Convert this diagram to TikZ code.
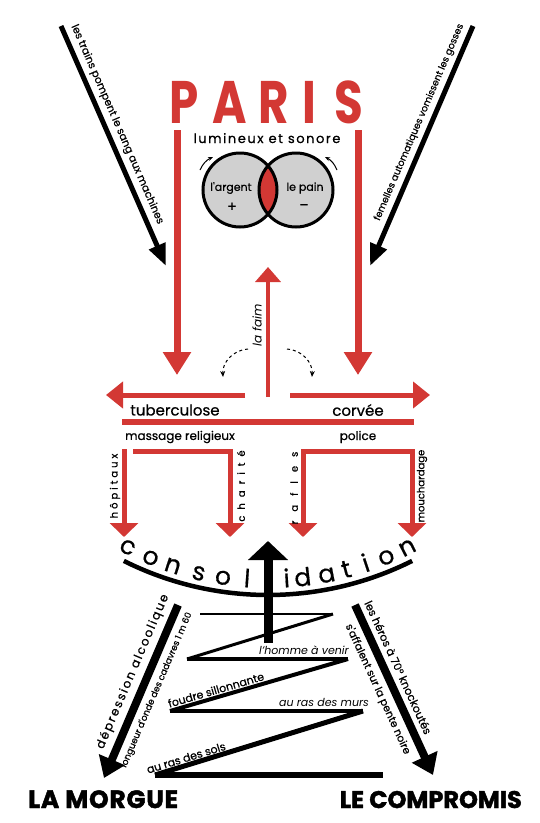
\documentclass[tikz,border=0pt]{standalone}
\usepackage{fontspec}
\setmainfont{Poppins}
\newfontfamily\medfont[FakeBold=0.6]{Poppins}
\newfontfamily\heavyfont[FakeBold=1.8]{Poppins}
\usetikzlibrary{arrows.meta}
\definecolor{parisred}{RGB}{211,56,52}
\definecolor{venngray}{RGB}{208,208,208}
\newcommand\fsz[1]{\fontsize{#1}{#1}\selectfont}
\tikzset{
  blackarrow/.style={line width=5pt, -{Triangle[length=22pt,width=17pt]}},
  bigblack/.style={line width=8pt, -{Triangle[length=20pt,width=27pt]}},
  bigred/.style={draw=parisred, line width=7pt, -{Triangle[length=23pt,width=27pt]}},
  hred/.style={draw=parisred, line width=5pt, -{Triangle[length=17pt,width=26pt]}},
  bracket/.style={draw=parisred, line width=5pt, >={Triangle[length=14pt,width=28pt]}},
  smallarc/.style={line width=1pt, -{Stealth[length=5pt,width=4pt]}},
  lbl/.style={inner sep=1pt, font=\medfont\fsz{#1}},
  lbl/.default=11
}
\begin{document}
\begin{tikzpicture}[x=1pt,y=-1pt]
  \useasboundingbox[fill=white] (0,0) rectangle (540,823);
  % the two black arrows at the top
  \coordinate (trainsA) at (61,26);  \coordinate (trainsB) at (166,266);
  \coordinate (femA) at (473,26);    \coordinate (femB) at (370,266);
  \draw[blackarrow] (trainsA) -- node[lbl=10.5, sloped, above=3pt, pos=0.43] (trains) {les trains pompent le sang aux machines} (trainsB);
  \draw[blackarrow] (femA) -- node[lbl=9.5, sloped, above=3pt, pos=0.42] (femelles) {femelles automatiques vomissent les gosses} (femB);

  % PARIS
  \foreach \ch/\px in {P/184, A/230, R/274, I/309, S/349}
    \node[font=\fsz{60}\bfseries, text=parisred, anchor=base, inner sep=0pt, xscale=0.78] (paris-\ch) at (\px,123) {\ch};
  \node[font=\medfont\fsz{13}\addfontfeature{LetterSpace=12}, anchor=base, inner sep=0pt] (lumineux) at (267,143) {lumineux et sonore};

  % argent / pain
  \coordinate (argent) at (240,190); \coordinate (pain) at (296,190);
  \fill[venngray] (argent) circle[radius=37] (pain) circle[radius=37];
  \begin{scope}
    \clip (argent) circle[radius=37];
    \fill[parisred] (pain) circle[radius=37];
  \end{scope}
  \draw[line width=3pt] (argent) circle[radius=37] (pain) circle[radius=37];
  \node[lbl=11] (argtxt) at (231,188) {l'argent};
  \node[lbl=14] (plus) at (232,207) {+};
  \node[lbl=11] (paintxt) at (305,188) {le pain};
  \node[lbl=14] (minus) at (304,207) {–};
  \coordinate (venL1) at (200,170); \coordinate (venL2) at (213,157);
  \coordinate (venR1) at (337,170); \coordinate (venR2) at (325,157);
  \draw[smallarc] (venL1) to[bend left=20] (venL2);
  \draw[smallarc] (venR1) to[bend right=20] (venR2);

  % red arrows down from Paris
  \coordinate (redL1) at (177,130); \coordinate (redL2) at (177,375);
  \coordinate (redR1) at (358,130); \coordinate (redR2) at (358,375);
  \draw[bigred] (redL1) -- (redL2);
  \draw[bigred] (redR1) -- (redR2);

  % la faim
  \coordinate (faimA) at (268,397); \coordinate (faimB) at (268,267);
  \draw[draw=parisred, line width=4.5pt, -{Triangle[length=15pt,width=25pt]}] (faimA) -- (faimB);
  \node[lbl=12, font=\itshape\fsz{12}, rotate=90] (faim) at (257,325) {la faim};
  \coordinate (dashLA) at (248,349); \coordinate (dashLB) at (223,377);
  \coordinate (dashRA) at (287,349); \coordinate (dashRB) at (312,377);
  \draw[dashed, line width=1pt, -{Stealth[length=6pt,width=5pt]}] (dashLA) to[bend right=45] (dashLB);
  \draw[dashed, line width=1pt, -{Stealth[length=6pt,width=5pt]}] (dashRA) to[bend left=45] (dashRB);

  % tuberculose / corvee
  \coordinate (tubA) at (245,395); \coordinate (tubB) at (106,395);
  \coordinate (corA) at (290,395); \coordinate (corB) at (430,395);
  \draw[hred] (tubA) -- (tubB);
  \draw[hred] (corA) -- (corB);
  \node[lbl=15] (tuberculose) at (175,410) {tuberculose};
  \node[lbl=15] (corvee) at (358,410) {corvée};
  \coordinate (barL) at (122,422); \coordinate (barR) at (414,422);
  \draw[draw=parisred, line width=6pt] (barL) -- (barR);

  \node[lbl=12] (massage) at (180,437) {massage religieux};
  \node[lbl=12] (police) at (358,437) {police};

  % the four small red arrows
  \coordinate (hopA) at (124,449);  \coordinate (hopB) at (124,537);
  \coordinate (charA) at (133,451); \coordinate (charB) at (230,537);
  \coordinate (rafB) at (303,537);  \coordinate (mouA) at (412,451); \coordinate (mouB) at (412,537);
  \draw[bracket, ->] (hopA) -- (hopB);
  \draw[bracket, ->] (charA) -| (charB);
  \draw[bracket, <->] (rafB) |- (mouA) -- (mouB);
  \node[font=\medfont\fsz{10}\addfontfeature{LetterSpace=30}, rotate=90] (hopitaux) at (115,486) {hôpitaux};
  \node[font=\medfont\fsz{10}\addfontfeature{LetterSpace=60}, rotate=90] (charite) at (241,486) {charité};
  \node[font=\medfont\fsz{10}\addfontfeature{LetterSpace=90}, rotate=90] (rafles) at (294,488) {rafles};
  \node[font=\medfont\fsz{10}, rotate=90] (mouchardage) at (422,486) {mouchardage};

  % consolidation
  \coordinate (arcctr) at (268,273);
  \draw[line width=4.5pt] ([shift={(116.6:322)}]arcctr) arc[start angle=116.6, end angle=63.4, radius=322];
  \foreach \ch/\b [count=\i] in {c/117.1, o/112.4, n/108.0, s/103.0, o/98.4, l/93.9,
      i/86.5, d/83.5, a/79.0, t/75.2, i/71.4, o/67.4, n/63.1}
    \node[font=\medfont\fsz{25}, anchor=base, inner sep=0pt, rotate={90-\b}] (cons-\i) at ([shift={(\b:315)}]arcctr) {\ch};

  % l'homme a venir
  \coordinate (hommeA) at (268,643); \coordinate (hommeB) at (268,541);
  \coordinate (z0) at (200,614); \coordinate (z1) at (333,614);
  \coordinate (z2) at (187,659); \coordinate (z3) at (348,659);
  \coordinate (z4) at (170,711); \coordinate (z5) at (363,711);
  \coordinate (z6) at (155,775); \coordinate (z7) at (383,775);
  \foreach \a/\b/\w in {0/1/2, 1/2/3, 2/3/3.5, 3/4/4, 4/5/4.5, 5/6/5, 6/7/6}
    \draw[line width=\w pt] (z\a) -- (z\b);
  \draw[line width=9pt, -{Triangle[length=19pt,width=39pt]}] (hommeA) -- (hommeB);
  \node[font=\itshape\fsz{11}, anchor=base] (homme) at (304,654) {l'homme à venir};
  \node[font=\itshape\fsz{11}, anchor=base] (murs) at (324,706) {au ras des murs};
  \path (z3) -- node[lbl=11, sloped, above=2pt, pos=0.73] (foudre) {foudre sillonnante} (z4);
  \path (z5) -- node[lbl=11, sloped, above=2pt, pos=0.84] (sols) {au ras des sols} (z6);

  % the two black arrows at the bottom
  \coordinate (morgA) at (178,605); \coordinate (morgB) at (104,778);
  \coordinate (compA) at (355,605); \coordinate (compB) at (433,775);
  \draw[bigblack] (morgA) -- node[font=\medfont\fsz{12}\addfontfeature{LetterSpace=15}, inner sep=1pt, sloped, above=4pt, pos=0.42] (depression) {dépression alcoolique}
    node[lbl=9, sloped, below=4pt, pos=0.46] (longueur) {longueur d'onde des cadavres 1 m 60} (morgB);
  \draw[bigblack] (compA) -- node[lbl=11, sloped, above=4pt, pos=0.4] (heros) {les héros à 70° knockoutés}
    node[lbl=10.5, sloped, below=4pt, pos=0.46] (affalent) {s'affalent sur la pente noire} (compB);

  \node[font=\heavyfont\bfseries\fsz{25}\addfontfeature{LetterSpace=3}, anchor=base west, inner sep=0pt] (morgue) at (28,808) {LA MORGUE};
  \node[font=\heavyfont\bfseries\fsz{24}, anchor=base east, inner sep=0pt] (compromis) at (522,808) {LE COMPROMIS};
\end{tikzpicture}
\end{document}
